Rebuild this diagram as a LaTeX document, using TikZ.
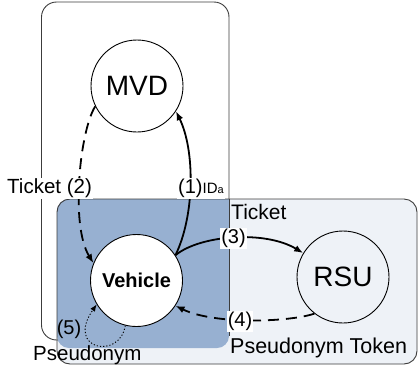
\documentclass[tikz,border=0pt]{standalone}
\usepackage{fontspec}
\setmainfont{Liberation Sans}
\usetikzlibrary{arrows.meta}
\definecolor{bluefill}{HTML}{97B0D1}
\definecolor{lightfill}{HTML}{EEF2F7}
\definecolor{boxline}{HTML}{3C3C3C}
\begin{document}
\begin{tikzpicture}[x=1pt,y=-1pt,
  region/.style={draw=boxline, line width=0.9pt, rounded corners=13pt},
  entity/.style={circle, draw=black, line width=0.9pt, minimum size=92pt, inner sep=0pt, font=\fontsize{28}{28}\selectfont},
  lbl/.style={inner sep=0pt, anchor=base west, font=\fontsize{21}{21}\selectfont},
  tag/.style={fill=white, inner sep=1pt, font=\fontsize{20}{20}\selectfont},
  flow/.style={line width=1.8pt, -{Latex[length=9pt,width=7pt]}},
  dashflow/.style={flow, dash pattern=on 11pt off 7pt},
  dotflow/.style={line width=0.9pt, dash pattern=on 1.2pt off 2pt, -{Latex[length=7pt,width=5.5pt]}}
]
\useasboundingbox (0,0) rectangle (418,373);
% light (RSU) region
\fill[lightfill, rounded corners=13pt] (57,199) rectangle (417,364);
% outer (MVD) region
\draw[region, rounded corners=15pt] (41.5,2) rectangle (229,340);
% overlap region
\fill[bluefill, rounded corners=12pt] (57,199) rectangle (229,348);
\fill[bluefill] (215,199) rectangle (229,212);
\draw[region] (57,199) rectangle (417,364);
\draw[boxline, line width=0.9pt] (229,199) -- (229,336);

% entities
\node[entity, fill=white] (mvd) at (137,86) {MVD};
\node[entity, fill=white, font=\bfseries\fontsize{20}{20}\selectfont] (veh) at (136.5,280.5) {Vehicle};
\node[entity] (rsu) at (343,277) {RSU};

% connectors
\draw[flow] (veh.33) .. controls (195,215) and (195,150) .. (mvd.-33);
\draw[dashflow] (mvd.206) .. controls (80,130) and (70,225) .. (veh.158);
\draw[flow] (veh.33) .. controls (200,235) and (265,230) .. (rsu.149);
\draw[dashflow] (rsu.232) .. controls (290,322) and (215,325) .. (veh.-33);
\draw[dotflow] (veh.256) .. controls (120,360) and (65,350) .. (veh.211);

% labels
\node[tag, anchor=base west, font=\fontsize{20.5}{20.5}\selectfont] (t2) at (6,193.5) {Ticket (2)};
\node[tag, anchor=base west] (t1) at (177,193.5) {(1)\fontsize{15}{15}\selectfont ID\fontsize{11}{11}\selectfont a};
\node[lbl] (tk3) at (231,219) {Ticket};
\node[tag] (n3) at (233.5,238.5) {(3)};
\node[tag] (n4) at (240,321.5) {(4)};
\node[inner sep=0pt, font=\fontsize{20}{20}\selectfont] (n5) at (69,329.5) {(5)};
\node[lbl, font=\fontsize{20.5}{20.5}\selectfont] (ps) at (33,360) {Pseudonym};
\node[lbl, font=\fontsize{21.5}{21.5}\selectfont] (pt) at (230,353.3) {Pseudonym Token};
\end{tikzpicture}
\end{document}
